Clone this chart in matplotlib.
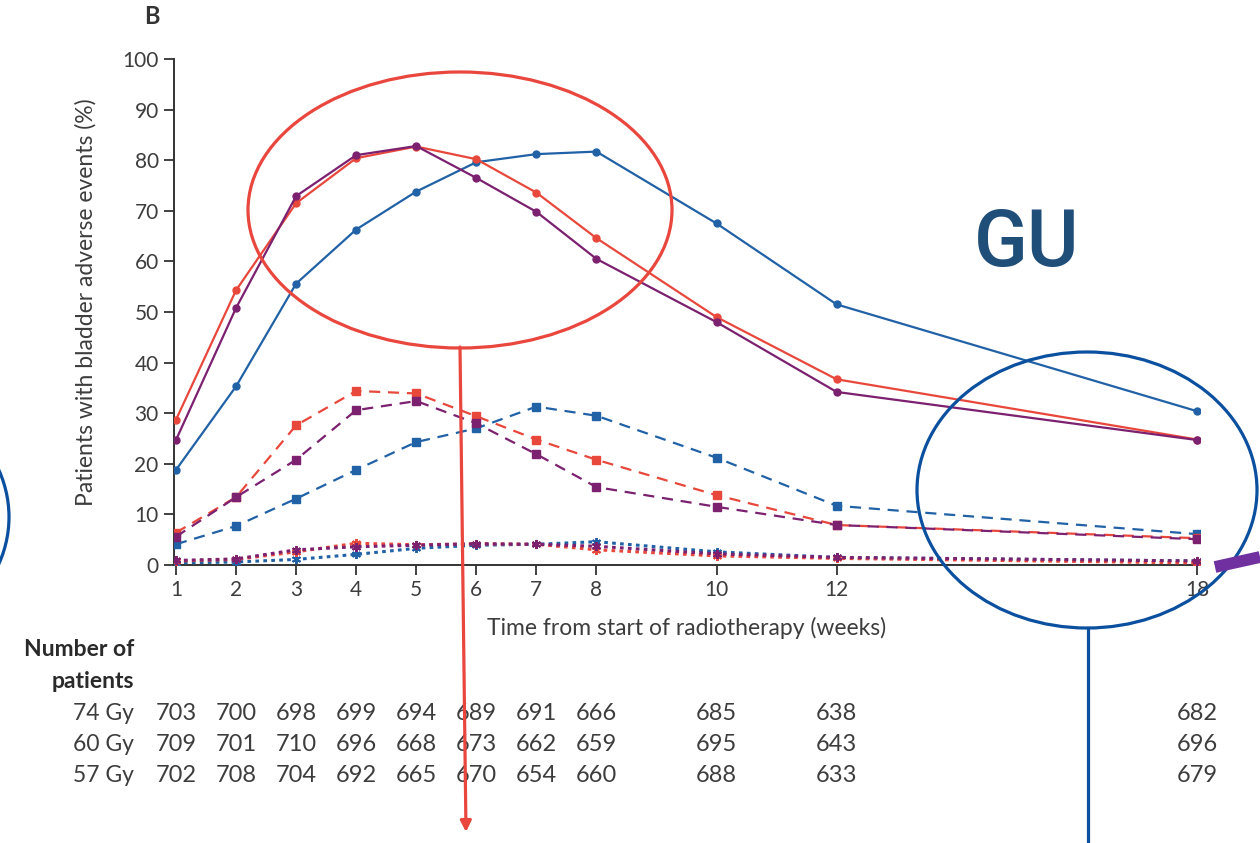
import matplotlib

matplotlib.use("Agg")
import matplotlib.pyplot as plt
from matplotlib.patches import Ellipse

plt.rcParams["font.family"] = ["Lato", "DejaVu Sans"]

# ---------------------------------------------------------------------------
# data (percent of patients, by week)
# ---------------------------------------------------------------------------
weeks = [1, 2, 3, 4, 5, 6, 7, 8, 10, 12, 18]

# grade >=1 (solid, circles)
g1_74 = [18.8, 35.3, 55.6, 66.3, 73.8, 79.6, 81.2, 81.7, 67.5, 51.5, 30.4]
g1_60 = [28.7, 54.3, 71.5, 80.4, 82.7, 80.2, 73.6, 64.6, 49.0, 36.7, 24.8]
g1_57 = [24.7, 50.8, 72.9, 81.0, 82.8, 76.5, 69.8, 60.5, 48.0, 34.2, 24.7]

# grade >=2 (dashed, squares)
g2_74 = [4.1, 7.7, 13.1, 18.8, 24.3, 27.0, 31.3, 29.5, 21.2, 11.7, 6.1]
g2_60 = [6.4, 13.4, 27.6, 34.4, 33.9, 29.4, 24.8, 20.8, 13.8, 7.9, 5.3]
g2_57 = [5.6, 13.4, 20.8, 30.6, 32.4, 28.0, 21.9, 15.4, 11.5, 7.9, 5.1]

# grade >=3 (dotted, stars)
g3_74 = [0.4, 0.6, 1.1, 2.1, 3.3, 3.9, 4.1, 4.6, 2.6, 1.5, 0.8]
g3_60 = [0.8, 1.1, 2.6, 4.3, 4.0, 4.2, 4.1, 3.0, 1.8, 1.3, 0.4]
g3_57 = [0.9, 1.2, 3.0, 3.6, 3.9, 4.2, 4.1, 3.7, 2.2, 1.5, 0.8]

# number of patients at risk
arms = ["74 Gy", "60 Gy", "57 Gy"]
n_74 = [703, 700, 698, 699, 694, 689, 691, 666, 685, 638, 682]
n_60 = [709, 701, 710, 696, 668, 673, 662, 659, 695, 643, 696]
n_57 = [702, 708, 704, 692, 665, 670, 654, 660, 688, 633, 679]

BLUE = "#2161a6"
RED = "#e8483c"
PURPLE = "#7c2070"
TXT = "#3d3d3d"

W, H = 1260, 843
fig = plt.figure(figsize=(W / 100, H / 100), dpi=100)

# main axes placed in pixel terms of the reference
x0, x1 = 0.967, 18.05
px_per_week = 60.06
left_px, bottom_px, top_px = 174, 565, 59
ax = fig.add_axes([left_px / W, 1 - bottom_px / H,
                   (x1 - x0) * px_per_week / W, (bottom_px - top_px) / H])

arm_colors = [BLUE, RED, PURPLE]
for ys, c in zip([g1_74, g1_60, g1_57], arm_colors):
    ax.plot(weeks, ys, color=c, lw=1.6, marker="o", ms=5, zorder=3)
for ys, c in zip([g2_74, g2_60, g2_57], arm_colors):
    ax.plot(weeks, ys, color=c, lw=1.6, ls=(0, (5, 3.5)), marker="s", ms=5.5, zorder=3)
for ys, c in zip([g3_74, g3_60, g3_57], arm_colors):
    ax.plot(weeks, ys, color=c, lw=2.2, ls=(0, (1.2, 1.4)), marker=(6, 2, 0),
            ms=6.5, mew=1.4, zorder=3)

ax.set_xlim(x0, x1)
ax.set_ylim(0, 100)
ax.set_xticks(weeks)
ax.set_yticks(range(0, 101, 10))
for s in ["top", "right"]:
    ax.spines[s].set_visible(False)
for s in ["left", "bottom"]:
    ax.spines[s].set_color("#333333")
    ax.spines[s].set_linewidth(1.4)
ax.spines["left"].set_bounds(0, 100)
ax.spines["bottom"].set_bounds(x0, 18)
ax.tick_params(direction="out", length=7, width=1.3, color="#333333",
               labelsize=15, labelcolor=TXT, pad=4)
ax.set_xlabel("Time from start of radiotherapy (weeks)", fontsize=16.5, color=TXT, labelpad=12)
ax.set_ylabel("Patients with bladder adverse events (%)", fontsize=16.5, color=TXT)
ax.yaxis.set_label_coords(-0.075, 0.52)

# overlay in pixel coordinates for panel letter, table and hand annotations
ov = fig.add_axes([0, 0, 1, 1], zorder=10)
ov.set_xlim(0, W)
ov.set_ylim(H, 0)
ov.axis("off")
ov.patch.set_alpha(0)

ov.text(152, 17, "B", fontsize=17, fontweight="bold", color="#333333", ha="center", va="center")

# number at risk table, columns follow the data x-scale
ov.text(134, 650, "Number of", fontsize=16.5, fontweight="bold", color="#2a2a2a", ha="right", va="center")
ov.text(134, 682, "patients", fontsize=16.5, fontweight="bold", color="#2a2a2a", ha="right", va="center")
for row, (arm, counts) in enumerate(zip(arms, [n_74, n_60, n_57])):
    y = 713 + row * 31.5
    ov.text(134, y, arm, fontsize=16.5, color=TXT, ha="right", va="center")
    for wk, n in zip(weeks, counts):
        x = left_px + (wk - x0) * px_per_week
        ov.text(x, y, str(n), fontsize=17, color=TXT, ha="center", va="center")

# hand-drawn highlights
ov.add_patch(Ellipse((460, 210), 424, 276, fill=False, ec="#e9463d", lw=2.3))
ov.annotate("", xy=(466, 832), xytext=(460, 347),
            arrowprops=dict(arrowstyle="-|>", color="#e9463d", lw=2.3, mutation_scale=16,
                            shrinkA=0, shrinkB=0))
ov.add_patch(Ellipse((1087, 490), 340, 276, fill=False, ec="#0b4f9f", lw=2.3))
ov.plot([1088, 1088], [628, 843], color="#0b4f9f", lw=2.3)
ov.add_patch(Ellipse((-161, 517), 340, 276, fill=False, ec="#0b4f9f", lw=2.3))
ov.plot([1215, 1260], [567, 557], color="#7030a0", lw=8.5, solid_capstyle="butt")
ov.text(1027, 244, "GU", fontsize=57, fontweight="medium", color="#1f4e79",
        family=["Roboto", "DejaVu Sans"], ha="center", va="center")

fig.savefig("out.png", dpi=100)
